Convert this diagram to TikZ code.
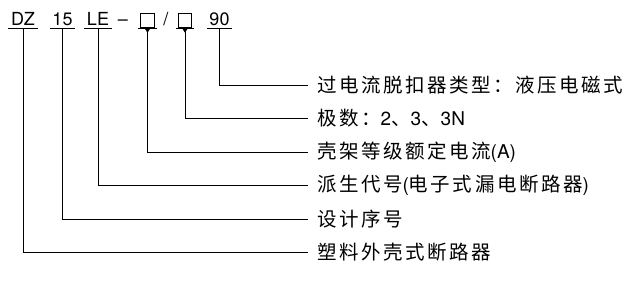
\documentclass[tikz,border=0pt]{standalone}
\usepackage{fontspec}
\setmainfont{TeX Gyre Heros}
\newfontfamily\cjk{Noto Sans CJK SC}[LetterSpace=13]
\newfontfamily\helv{TeX Gyre Heros}
\newcommand\lat[1]{{\helv\fontsize{19pt}{22pt}\selectfont #1}}
\newcommand\emptybox{\raisebox{-1.5pt}{\setlength\fboxsep{0pt}\setlength\fboxrule{0.7pt}\fbox{\rule{0pt}{12.8pt}\hspace{12.8pt}}}}
\usetikzlibrary{arrows.meta}

\begin{document}
\begin{tikzpicture}[x=1pt,y=-1pt,
  code/.style={font=\fontsize{18pt}{21pt}\selectfont, text depth=0pt,
    inner xsep=2.5pt, inner ysep=3.5pt, anchor=base},
  legend/.style={font=\cjk\fontsize{19.5pt}{23pt}\selectfont, anchor=west,
    inner xsep=0pt, outer xsep=9pt},
  lead/.style={line width=0.6pt},
  mark tip/.style={{Triangle[width=5pt,length=4pt,reversed]}-}]
\useasboundingbox (0,0) rectangle (641,282);

% model code
\node[code] (dz) at (23,25) {DZ};
\node[code] (frame) at (62.5,25) {15};
\node[code] (deriv) at (98,25) {LE};
\node[code] (dash) at (123,25) {–};
\node[code,inner xsep=2pt] (box1) at (147.5,25) {\emptybox};
\node[code] (slash) at (166,25) {/};
\node[code,inner xsep=2pt] (box2) at (185,25) {\emptybox};
\node[code] (trip) at (219.5,25) {90};

\foreach \n in {dz,frame,deriv,box1,box2,trip}
  \draw[lead] (\n.south west) -- (\n.south east);

% legend
\node[legend] (t1) at (308,85) {过电流脱扣器类型：液压电磁式};
\node[legend] (t2) at (308,118) {极数：\lat{2}、\lat{3}、\lat{3N}};
\node[legend] (t3) at (308,152) {壳架等级额定电流\lat{(A)}};
\node[legend] (t4) at (308,185) {派生代号\lat{(}电子式漏电断路器\lat{)}};
\node[legend] (t5) at (308,219) {设计序号};
\node[legend] (t6) at (308,252) {塑料外壳式断路器};

\draw[lead] (trip.south) |- (t1.west);
\draw[lead,mark tip] (box2.south) |- (t2.west);
\draw[lead,mark tip] (box1.south) |- (t3.west);
\draw[lead] (deriv.south) |- (t4.west);
\draw[lead] (frame.south) |- (t5.west);
\draw[lead] (dz.south) |- (t6.west);
\end{tikzpicture}
\end{document}
